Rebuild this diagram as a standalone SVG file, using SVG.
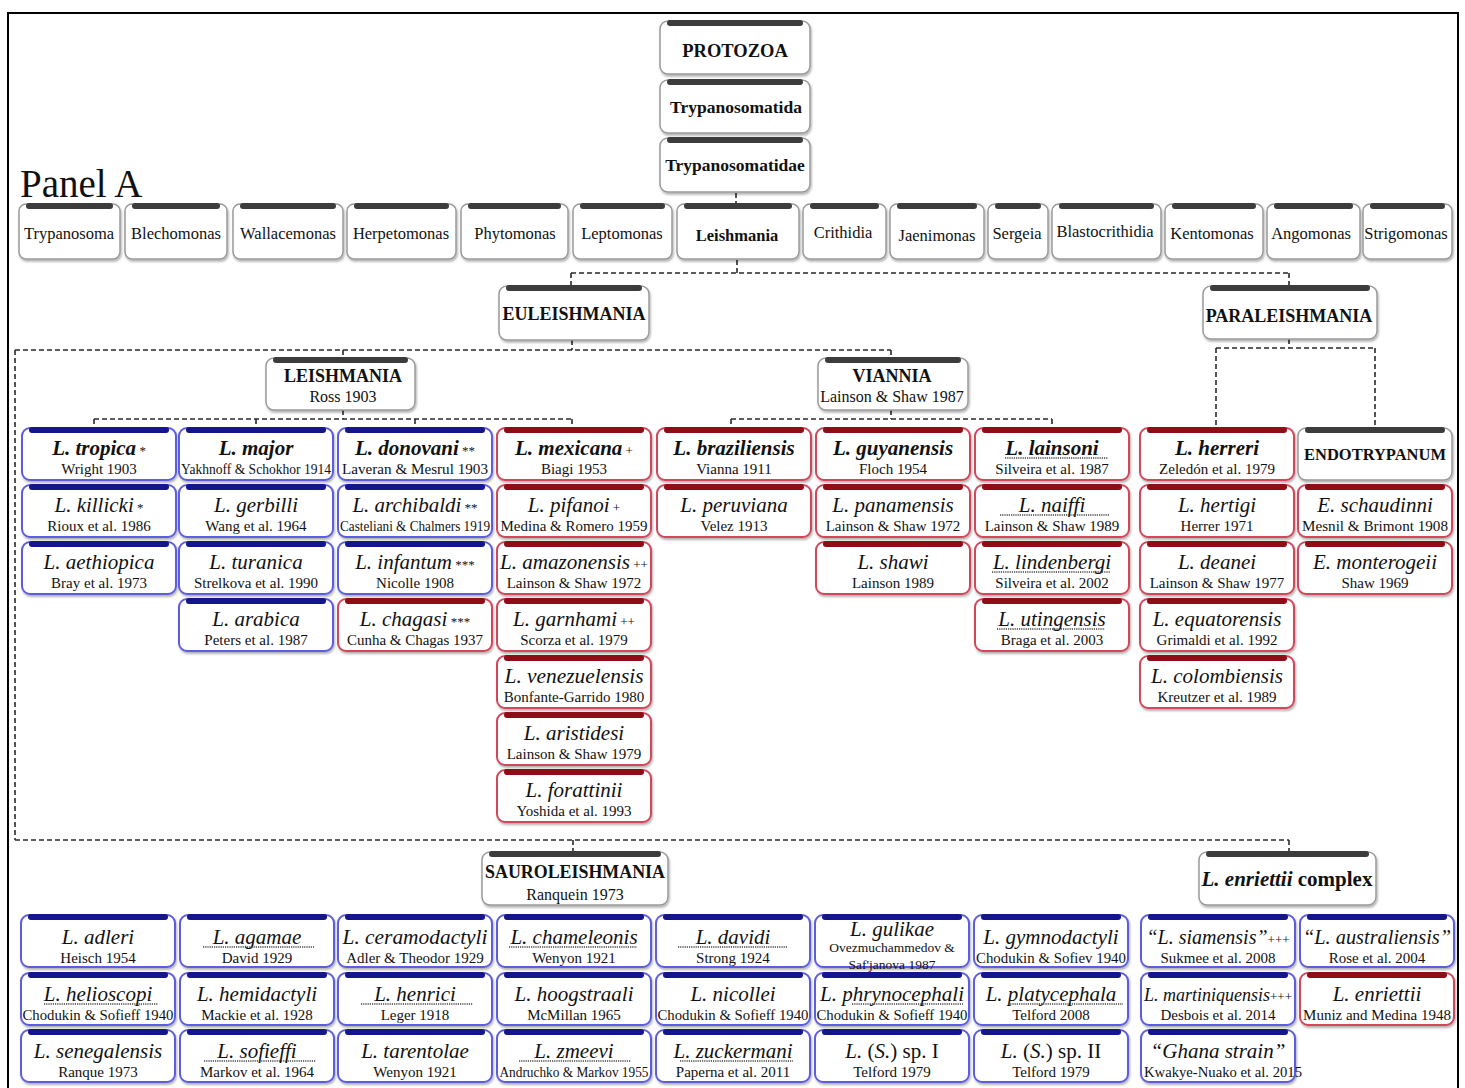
<svg xmlns="http://www.w3.org/2000/svg" width="1465" height="1088" viewBox="0 0 1465 1088">
<defs>
<filter id="sh" x="-10%" y="-10%" width="120%" height="130%"><feDropShadow dx="1" dy="2" stdDeviation="1.2" flood-color="#000" flood-opacity="0.3"/></filter>
<g id="fB"><rect width="154" height="52" rx="8" fill="#fff" stroke="#5d5de0" stroke-width="2"/><rect x="7" y="-1" width="140" height="6" rx="3" fill="#16168c"/></g>
<g id="fR"><rect width="154" height="52" rx="8" fill="#fff" stroke="#d2475a" stroke-width="2"/><rect x="7" y="-1" width="140" height="6" rx="3" fill="#8e0d16"/></g>
</defs>
<style>
text{font-family:"Liberation Serif","Times New Roman",serif;fill:#111}
.bx{fill:#fff;stroke:#9a9a9a;stroke-width:1.5;filter:url(#sh)}
.gb{fill:#3c3c3c}
.gn{font-size:16.5px;text-anchor:middle}
.t{font-weight:bold;text-anchor:middle;font-size:18px}
.st{font-size:16px;text-anchor:middle}
.nm{font-size:21px;font-style:italic;text-anchor:middle}
.nb{font-size:21px;font-style:italic;font-weight:bold;text-anchor:middle}
.au{font-size:15px;text-anchor:middle}
.sm{font-size:13px;font-style:normal;font-weight:normal}
.it{font-style:italic}
.ul{stroke:#444;stroke-width:1.4;stroke-dasharray:1.2 1}
.cn{fill:none;stroke:#2a2a2a;stroke-width:1.6;stroke-dasharray:5 3}
use{filter:url(#sh)}
</style>
<rect x="0" y="0" width="1465" height="1088" fill="#fff"/>
<rect x="8" y="13" width="1450" height="1090" fill="none" stroke="#000" stroke-width="2"/>
<text x="20" y="197" style="font-size:39px">Panel A</text>

<g id="connectors">
<path class="cn" d="M736 193V204M737 260V273M571 273H1289M571 273V286M1289 273V286M572 340V350M15 350H891M15 350V840M343 350V358M891 350V358M343 410V419M94 419H572M94 419V428M256 419V428M415 419V428M572 419V428M891 410V419M731 419H1052M731 419V428M1052 419V428M1289 339V348M1216 348H1375M1216 348V428M1375 348V428M15 840H1289M573 840V852M1289 840V852"/>
</g>

<g id="protozoa"><rect class="bx" x="660" y="21" width="150" height="53" rx="8"/><rect class="gb" x="667" y="20" width="136" height="6" rx="3"/><text class="t" x="735" y="57" style="font-size:18.5px">PROTOZOA</text></g>
<g id="trypanosomatida"><rect class="bx" x="660" y="80" width="150" height="53" rx="8"/><rect class="gb" x="667" y="79" width="136" height="6" rx="3"/><text class="t" x="736" y="113" style="font-size:17.5px">Trypanosomatida</text></g>
<g id="trypanosomatidae"><rect class="bx" x="660" y="138" width="150" height="54" rx="8"/><rect class="gb" x="667" y="137" width="136" height="6" rx="3"/><text class="t" x="735" y="171" style="font-size:17.5px">Trypanosomatidae</text></g>

<g id="g-trypanosoma"><rect class="bx" x="19" y="204" width="101" height="55" rx="7"/><rect class="gb" x="26" y="203" width="87" height="6" rx="3"/><text class="gn" x="69" y="239">Trypanosoma</text></g>
<g id="g-blechomonas"><rect class="bx" x="125" y="204" width="102" height="55" rx="7"/><rect class="gb" x="132" y="203" width="88" height="6" rx="3"/><text class="gn" x="176" y="239">Blechomonas</text></g>
<g id="g-wallacemonas"><rect class="bx" x="233" y="204" width="110" height="55" rx="7"/><rect class="gb" x="240" y="203" width="96" height="6" rx="3"/><text class="gn" x="288" y="239">Wallacemonas</text></g>
<g id="g-herpetomonas"><rect class="bx" x="347" y="204" width="109" height="55" rx="7"/><rect class="gb" x="354" y="203" width="95" height="6" rx="3"/><text class="gn" x="401" y="239">Herpetomonas</text></g>
<g id="g-phytomonas"><rect class="bx" x="461" y="204" width="107" height="55" rx="7"/><rect class="gb" x="468" y="203" width="93" height="6" rx="3"/><text class="gn" x="515" y="239">Phytomonas</text></g>
<g id="g-leptomonas"><rect class="bx" x="573" y="204" width="99" height="55" rx="7"/><rect class="gb" x="580" y="203" width="85" height="6" rx="3"/><text class="gn" x="622" y="239">Leptomonas</text></g>
<g id="g-leishmania"><rect class="bx" x="677" y="204" width="122" height="55" rx="7"/><rect class="gb" x="684" y="203" width="108" height="6" rx="3"/><text class="gn" x="737" y="241" style="font-weight:bold">Leishmania</text></g>
<g id="g-crithidia"><rect class="bx" x="803" y="204" width="83" height="55" rx="7"/><rect class="gb" x="810" y="203" width="69" height="6" rx="3"/><text class="gn" x="843" y="238">Crithidia</text></g>
<g id="g-jaenimonas"><rect class="bx" x="890" y="204" width="94" height="55" rx="7"/><rect class="gb" x="897" y="203" width="80" height="6" rx="3"/><text class="gn" x="937" y="241">Jaenimonas</text></g>
<g id="g-sergeia"><rect class="bx" x="988" y="204" width="60" height="55" rx="7"/><rect class="gb" x="995" y="203" width="46" height="6" rx="3"/><text class="gn" x="1017" y="239">Sergeia</text></g>
<g id="g-blastocrithidia"><rect class="bx" x="1052" y="204" width="109" height="55" rx="7"/><rect class="gb" x="1059" y="203" width="95" height="6" rx="3"/><text class="gn" x="1105" y="237">Blastocrithidia</text></g>
<g id="g-kentomonas"><rect class="bx" x="1165" y="204" width="98" height="55" rx="7"/><rect class="gb" x="1172" y="203" width="84" height="6" rx="3"/><text class="gn" x="1212" y="239">Kentomonas</text></g>
<g id="g-angomonas"><rect class="bx" x="1267" y="204" width="93" height="55" rx="7"/><rect class="gb" x="1274" y="203" width="79" height="6" rx="3"/><text class="gn" x="1311" y="239">Angomonas</text></g>
<g id="g-strigomonas"><rect class="bx" x="1363" y="204" width="89" height="55" rx="7"/><rect class="gb" x="1370" y="203" width="75" height="6" rx="3"/><text class="gn" x="1406" y="239">Strigomonas</text></g>

<g id="euleishmania"><rect class="bx" x="499" y="286" width="150" height="54" rx="8"/><rect class="gb" x="506" y="285" width="136" height="6" rx="3"/><text class="t" x="574" y="320">EULEISHMANIA</text></g>
<g id="paraleishmania"><rect class="bx" x="1203" y="286" width="174" height="53" rx="8"/><rect class="gb" x="1210" y="285" width="160" height="6" rx="3"/><text class="t" x="1289" y="322">PARALEISHMANIA</text></g>
<g id="sg-leishmania"><rect class="bx" x="266" y="358" width="149" height="52" rx="8"/><rect class="gb" x="273" y="357" width="135" height="6" rx="3"/><text class="t" x="343" y="382">LEISHMANIA</text><text class="st" x="343" y="402">Ross 1903</text></g>
<g id="sg-viannia"><rect class="bx" x="818" y="358" width="150" height="52" rx="8"/><rect class="gb" x="825" y="357" width="136" height="6" rx="3"/><text class="t" x="892" y="382">VIANNIA</text><text class="st" x="892" y="402">Lainson &amp; Shaw 1987</text></g>

<g id="s-tropica"><use href="#fB" x="22" y="428"/><text class="nb" x="99" y="455">L. tropica<tspan class="sm"> *</tspan></text><text class="au" x="99" y="474">Wright 1903</text></g>
<g id="s-killicki"><use href="#fB" x="22" y="485"/><text class="nm" x="99" y="512">L. killicki<tspan class="sm"> *</tspan></text><text class="au" x="99" y="531">Rioux et al. 1986</text></g>
<g id="s-aethiopica"><use href="#fB" x="22" y="542"/><text class="nm" x="99" y="569">L. aethiopica</text><text class="au" x="99" y="588">Bray et al. 1973</text></g>
<g id="s-major"><use href="#fB" x="179" y="428"/><text class="nb" x="256" y="455">L. major</text><text class="au" x="256" y="474" textLength="150" lengthAdjust="spacingAndGlyphs">Yakhnoff &amp; Schokhor 1914</text></g>
<g id="s-gerbilli"><use href="#fB" x="179" y="485"/><text class="nm" x="256" y="512">L. gerbilli</text><text class="au" x="256" y="531">Wang et al. 1964</text></g>
<g id="s-turanica"><use href="#fB" x="179" y="542"/><text class="nm" x="256" y="569">L. turanica</text><text class="au" x="256" y="588">Strelkova et al. 1990</text></g>
<g id="s-arabica"><use href="#fB" x="179" y="599"/><text class="nm" x="256" y="626">L. arabica</text><text class="au" x="256" y="645">Peters et al. 1987</text></g>
<g id="s-donovani"><use href="#fB" x="338" y="428"/><text class="nb" x="415" y="455">L. donovani<tspan class="sm"> **</tspan></text><text class="au" x="415" y="474" textLength="146" lengthAdjust="spacingAndGlyphs">Laveran &amp; Mesrul 1903</text></g>
<g id="s-archibaldi"><use href="#fB" x="338" y="485"/><text class="nm" x="415" y="512">L. archibaldi<tspan class="sm"> **</tspan></text><text class="au" x="415" y="531" textLength="150" lengthAdjust="spacingAndGlyphs">Casteliani &amp; Chalmers 1919</text></g>
<g id="s-infantum"><use href="#fB" x="338" y="542"/><text class="nm" x="415" y="569">L. infantum<tspan class="sm"> ***</tspan></text><text class="au" x="415" y="588">Nicolle 1908</text></g>
<g id="s-chagasi"><use href="#fR" x="338" y="599"/><text class="nm" x="415" y="626">L. chagasi<tspan class="sm"> ***</tspan></text><text class="au" x="415" y="645">Cunha &amp; Chagas 1937</text></g>
<g id="s-mexicana"><use href="#fR" x="497" y="428"/><text class="nb" x="574" y="455">L. mexicana<tspan class="sm"> +</tspan></text><text class="au" x="574" y="474">Biagi 1953</text></g>
<g id="s-pifanoi"><use href="#fR" x="497" y="485"/><text class="nm" x="574" y="512">L. pifanoi<tspan class="sm"> +</tspan></text><text class="au" x="574" y="531" textLength="147" lengthAdjust="spacingAndGlyphs">Medina &amp; Romero 1959</text></g>
<g id="s-amazonensis"><use href="#fR" x="497" y="542"/><text class="nm" x="574" y="569" textLength="148" lengthAdjust="spacingAndGlyphs">L. amazonensis<tspan class="sm"> ++</tspan></text><text class="au" x="574" y="588">Lainson &amp; Shaw 1972</text></g>
<g id="s-garnhami"><use href="#fR" x="497" y="599"/><text class="nm" x="574" y="626">L. garnhami<tspan class="sm"> ++</tspan></text><text class="au" x="574" y="645">Scorza et al. 1979</text></g>
<g id="s-venezuelensis"><use href="#fR" x="497" y="656"/><text class="nm" x="574" y="683" textLength="139" lengthAdjust="spacingAndGlyphs">L. venezuelensis</text><text class="au" x="574" y="702">Bonfante-Garrido 1980</text></g>
<g id="s-aristidesi"><use href="#fR" x="497" y="713"/><text class="nm" x="574" y="740">L. aristidesi</text><text class="au" x="574" y="759">Lainson &amp; Shaw 1979</text></g>
<g id="s-forattinii"><use href="#fR" x="497" y="770"/><text class="nm" x="574" y="797">L. forattinii</text><text class="au" x="574" y="816">Yoshida et al. 1993</text></g>

<g id="s-braziliensis"><use href="#fR" x="657" y="428"/><text class="nb" x="734" y="455">L. braziliensis</text><text class="au" x="734" y="474">Vianna 1911</text></g>
<g id="s-peruviana"><use href="#fR" x="657" y="485"/><text class="nm" x="734" y="512">L. peruviana</text><text class="au" x="734" y="531">Velez 1913</text></g>
<g id="s-guyanensis"><use href="#fR" x="816" y="428"/><text class="nb" x="893" y="455">L. guyanensis</text><text class="au" x="893" y="474">Floch 1954</text></g>
<g id="s-panamensis"><use href="#fR" x="816" y="485"/><text class="nm" x="893" y="512">L. panamensis</text><text class="au" x="893" y="531">Lainson &amp; Shaw 1972</text></g>
<g id="s-shawi"><use href="#fR" x="816" y="542"/><text class="nm" x="893" y="569">L. shawi</text><text class="au" x="893" y="588">Lainson 1989</text></g>
<g id="s-lainsoni"><use href="#fR" x="975" y="428"/><text class="nb" x="1052" y="455">L. lainsoni</text><line class="ul" x1="1005" y1="458" x2="1108" y2="458"/><text class="au" x="1052" y="474">Silveira et al. 1987</text></g>
<g id="s-naiffi"><use href="#fR" x="975" y="485"/><text class="nm" x="1052" y="512">L. naiffi</text><line class="ul" x1="1000" y1="515" x2="1110" y2="515"/><text class="au" x="1052" y="531">Lainson &amp; Shaw 1989</text></g>
<g id="s-lindenbergi"><use href="#fR" x="975" y="542"/><text class="nm" x="1052" y="569">L. lindenbergi</text><line class="ul" x1="992" y1="572" x2="1110" y2="572"/><text class="au" x="1052" y="588">Silveira et al. 2002</text></g>
<g id="s-utingensis"><use href="#fR" x="975" y="599"/><text class="nm" x="1052" y="626">L. utingensis</text><line class="ul" x1="997" y1="629" x2="1105" y2="629"/><text class="au" x="1052" y="645">Braga et al. 2003</text></g>

<g id="s-herreri"><use href="#fR" x="1140" y="428"/><text class="nb" x="1217" y="455">L. herreri</text><text class="au" x="1217" y="474">Zeledón et al. 1979</text></g>
<g id="s-hertigi"><use href="#fR" x="1140" y="485"/><text class="nm" x="1217" y="512">L. hertigi</text><text class="au" x="1217" y="531">Herrer 1971</text></g>
<g id="s-deanei"><use href="#fR" x="1140" y="542"/><text class="nm" x="1217" y="569">L. deanei</text><text class="au" x="1217" y="588">Lainson &amp; Shaw 1977</text></g>
<g id="s-equatorensis"><use href="#fR" x="1140" y="599"/><text class="nm" x="1217" y="626">L. equatorensis</text><text class="au" x="1217" y="645">Grimaldi et al. 1992</text></g>
<g id="s-colombiensis"><use href="#fR" x="1140" y="656"/><text class="nm" x="1217" y="683">L. colombiensis</text><text class="au" x="1217" y="702">Kreutzer et al. 1989</text></g>
<g id="endotrypanum"><rect class="bx" x="1298" y="428" width="154" height="52" rx="8"/><rect class="gb" x="1305" y="427" width="140" height="6" rx="3"/><text class="t" x="1375" y="460" style="font-size:16.5px" textLength="142" lengthAdjust="spacingAndGlyphs">ENDOTRYPANUM</text></g>
<g id="s-schaudinni"><use href="#fR" x="1298" y="485"/><text class="nm" x="1375" y="512">E. schaudinni</text><text class="au" x="1375" y="531" textLength="146" lengthAdjust="spacingAndGlyphs">Mesnil &amp; Brimont 1908</text></g>
<g id="s-monterogeii"><use href="#fR" x="1298" y="542"/><text class="nm" x="1375" y="569">E. monterogeii</text><text class="au" x="1375" y="588">Shaw 1969</text></g>

<g id="sauroleishmania"><rect class="bx" x="482" y="852" width="186" height="53" rx="8"/><rect class="gb" x="489" y="851" width="172" height="6" rx="3"/><text class="t" x="575" y="878" textLength="180" lengthAdjust="spacingAndGlyphs">SAUROLEISHMANIA</text><text class="st" x="575" y="900">Ranquein 1973</text></g>
<g id="enriettii-complex"><rect class="bx" x="1199" y="852" width="177" height="53" rx="8"/><rect class="gb" x="1206" y="851" width="163" height="6" rx="3"/><text class="t" x="1287" y="886" style="font-size:21px"><tspan class="it">L. enriettii</tspan> complex</text></g>

<g id="s-adleri"><use href="#fB" x="21" y="915"/><text class="nm" x="98" y="944">L. adleri</text><text class="au" x="98" y="963">Heisch 1954</text></g>
<g id="s-agamae"><use href="#fB" x="180" y="915"/><text class="nm" x="257" y="944">L. agamae</text><line class="ul" x1="203" y1="947" x2="314" y2="947"/><text class="au" x="257" y="963">David 1929</text></g>
<g id="s-ceramodactyli"><use href="#fB" x="338" y="915"/><text class="nm" x="415" y="944" textLength="145" lengthAdjust="spacingAndGlyphs">L. ceramodactyli</text><text class="au" x="415" y="963">Adler &amp; Theodor 1929</text></g>
<g id="s-chameleonis"><use href="#fB" x="497" y="915"/><text class="nm" x="574" y="944">L. chameleonis</text><line class="ul" x1="509" y1="947" x2="637" y2="947"/><text class="au" x="574" y="963">Wenyon 1921</text></g>
<g id="s-davidi"><use href="#fB" x="656" y="915"/><text class="nm" x="733" y="944">L. davidi</text><line class="ul" x1="678" y1="947" x2="788" y2="947"/><text class="au" x="733" y="963">Strong 1924</text></g>
<g id="s-gulikae"><use href="#fB" x="815" y="915"/><text class="nm" x="892" y="936">L. gulikae</text><text class="au" x="892" y="952" style="font-size:13.5px">Ovezmuchammedov &amp;</text><text class="au" x="892" y="969" style="font-size:13.5px">Saf'janova 1987</text></g>
<g id="s-gymnodactyli"><use href="#fB" x="974" y="915"/><text class="nm" x="1051" y="944">L. gymnodactyli</text><text class="au" x="1051" y="963" textLength="150" lengthAdjust="spacingAndGlyphs">Chodukin &amp; Sofiev 1940</text></g>
<g id="s-siamensis"><use href="#fB" x="1141" y="915"/><text class="nm" x="1218" y="944" style="font-size:20px">“L. siamensis”<tspan class="sm">+++</tspan></text><text class="au" x="1218" y="963">Sukmee et al. 2008</text></g>
<g id="s-australiensis"><use href="#fB" x="1300" y="915"/><text class="nm" x="1377" y="944" textLength="148" lengthAdjust="spacingAndGlyphs">“L. australiensis”</text><text class="au" x="1377" y="963">Rose et al. 2004</text></g>

<g id="s-helioscopi"><use href="#fB" x="21" y="973"/><text class="nm" x="98" y="1001">L. helioscopi</text><line class="ul" x1="44" y1="1004" x2="158" y2="1004"/><text class="au" x="98" y="1020" textLength="151" lengthAdjust="spacingAndGlyphs">Chodukin &amp; Sofieff 1940</text></g>
<g id="s-hemidactyli"><use href="#fB" x="180" y="973"/><text class="nm" x="257" y="1001">L. hemidactyli</text><text class="au" x="257" y="1020">Mackie et al. 1928</text></g>
<g id="s-henrici"><use href="#fB" x="338" y="973"/><text class="nm" x="415" y="1001">L. henrici</text><line class="ul" x1="361" y1="1004" x2="473" y2="1004"/><text class="au" x="415" y="1020">Leger 1918</text></g>
<g id="s-hoogstraali"><use href="#fB" x="497" y="973"/><text class="nm" x="574" y="1001">L. hoogstraali</text><text class="au" x="574" y="1020">McMillan 1965</text></g>
<g id="s-nicollei"><use href="#fB" x="656" y="973"/><text class="nm" x="733" y="1001">L. nicollei</text><text class="au" x="733" y="1020" textLength="151" lengthAdjust="spacingAndGlyphs">Chodukin &amp; Sofieff 1940</text></g>
<g id="s-phrynocephali"><use href="#fB" x="815" y="973"/><text class="nm" x="892" y="1001" textLength="144" lengthAdjust="spacingAndGlyphs">L. phrynocephali</text><line class="ul" x1="852" y1="1004" x2="963" y2="1004"/><text class="au" x="892" y="1020" textLength="151" lengthAdjust="spacingAndGlyphs">Chodukin &amp; Sofieff 1940</text></g>
<g id="s-platycephala"><use href="#fB" x="974" y="973"/><text class="nm" x="1051" y="1001">L. platycephala</text><line class="ul" x1="1008" y1="1004" x2="1123" y2="1004"/><text class="au" x="1051" y="1020">Telford 2008</text></g>
<g id="s-martiniquensis"><use href="#fB" x="1141" y="973"/><text class="nm" x="1218" y="1001" style="font-size:18px">L. martiniquensis<tspan class="sm">+++</tspan></text><text class="au" x="1218" y="1020">Desbois et al. 2014</text></g>
<g id="s-enriettii"><use href="#fR" x="1300" y="973"/><text class="nm" x="1377" y="1001">L. enriettii</text><text class="au" x="1377" y="1020">Muniz and Medina 1948</text></g>

<g id="s-senegalensis"><use href="#fB" x="21" y="1030"/><text class="nm" x="98" y="1058">L. senegalensis</text><text class="au" x="98" y="1077">Ranque 1973</text></g>
<g id="s-sofieffi"><use href="#fB" x="180" y="1030"/><text class="nm" x="257" y="1058">L. sofieffi</text><line class="ul" x1="204" y1="1061" x2="316" y2="1061"/><text class="au" x="257" y="1077">Markov et al. 1964</text></g>
<g id="s-tarentolae"><use href="#fB" x="338" y="1030"/><text class="nm" x="415" y="1058">L. tarentolae</text><text class="au" x="415" y="1077">Wenyon 1921</text></g>
<g id="s-zmeevi"><use href="#fB" x="497" y="1030"/><text class="nm" x="574" y="1058">L. zmeevi</text><line class="ul" x1="519" y1="1061" x2="631" y2="1061"/><text class="au" x="574" y="1077" textLength="149" lengthAdjust="spacingAndGlyphs">Andruchko &amp; Markov 1955</text></g>
<g id="s-zuckermani"><use href="#fB" x="656" y="1030"/><text class="nm" x="733" y="1058">L. zuckermani</text><line class="ul" x1="680" y1="1061" x2="793" y2="1061"/><text class="au" x="733" y="1077">Paperna et al. 2011</text></g>
<g id="s-sp1"><use href="#fB" x="815" y="1030"/><text class="nm" x="892" y="1058" style="font-style:normal"><tspan class="it">L.</tspan> (<tspan class="it">S.</tspan>) sp. I</text><text class="au" x="892" y="1077">Telford 1979</text></g>
<g id="s-sp2"><use href="#fB" x="974" y="1030"/><text class="nm" x="1051" y="1058" style="font-style:normal"><tspan class="it">L.</tspan> (<tspan class="it">S.</tspan>) sp. II</text><text class="au" x="1051" y="1077">Telford 1979</text></g>
<g id="s-ghana"><use href="#fB" x="1141" y="1030"/><text class="nm" x="1218" y="1058">“Ghana strain”</text><text class="au" x="1223" y="1077" textLength="158" lengthAdjust="spacingAndGlyphs">Kwakye-Nuako et al. 2015</text></g>
</svg>
